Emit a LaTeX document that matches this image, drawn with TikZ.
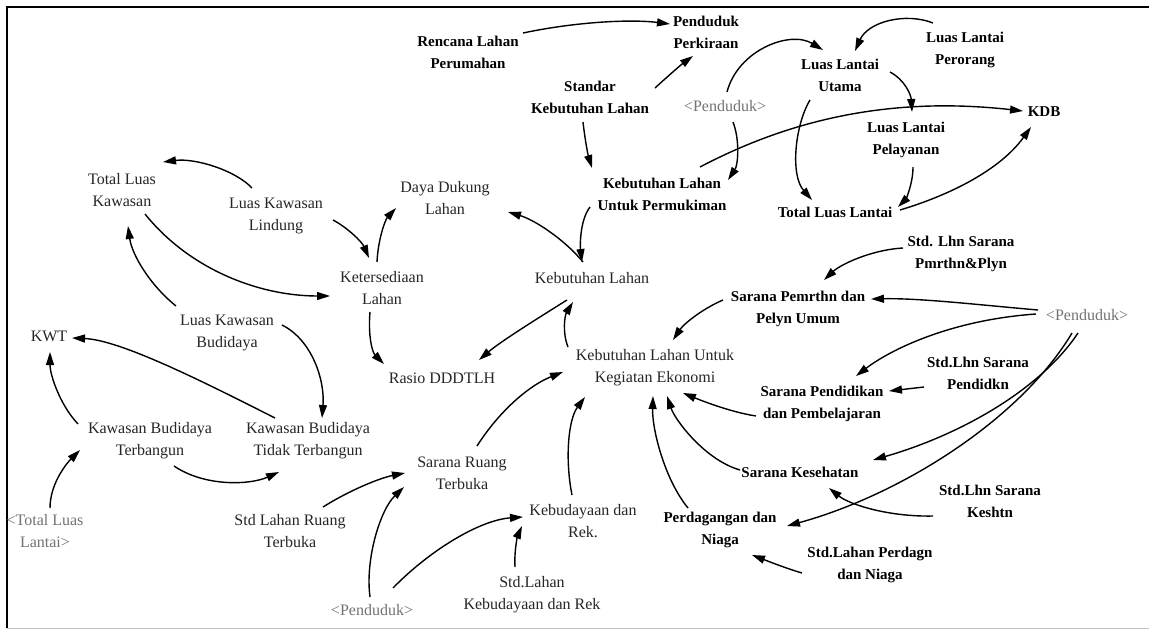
\documentclass[tikz,border=0pt]{standalone}
\usepackage{fontspec}
\setmainfont{Liberation Serif}
\usetikzlibrary{arrows.meta,calc}
\begin{document}
\begin{tikzpicture}[x=1pt,y=-1pt,
  lbl/.style={align=center,inner sep=1pt,text=black!85,font=\fontsize{16}{22}\selectfont},
  blbl/.style={align=center,inner sep=1pt,text=black,font=\fontsize{15}{22}\selectfont\bfseries},
  glbl/.style={align=center,inner sep=1pt,text=black!55,font=\fontsize{16}{22}\selectfont},
  arr/.style={line width=1.4pt,-{Triangle[length=13pt,width=8pt]}}]
\useasboundingbox (0,0) rectangle (1149,637);
\fill[white] (0,0) rectangle (1149,637);
% frame
\draw[line width=2.5pt] (7,628) -- (7,7) -- (1149,7);
\draw[black!25,line width=1pt] (7,628) -- (1149,628);
% nodes
\node[blbl] (ren) at (468,52) {Rencana Lahan\\Perumahan};
\node[blbl] (pen) at (706,32) {Penduduk\\Perkiraan};
\node[blbl] (std) at (590,97) {Standar\\Kebutuhan Lahan};
\node[glbl] (pdka) at (725,106) {<Penduduk>};
\node[blbl] (llu) at (840,75) {Luas Lantai\\Utama};
\node[blbl] (llp) at (965,50) {Luas Lantai\\Perorang};
\node[blbl] (kdb) at (1044,112) {KDB};
\node[blbl] (llpel) at (906,140) {Luas Lantai\\Pelayanan};
\node[blbl] (tll) at (835,212) {Total Luas Lantai};
\node[blbl] (klp) at (662,194) {Kebutuhan Lahan\\Untuk Permukiman};
\node[lbl] (ddl) at (445,198) {Daya Dukung\\Lahan};
\node[lbl] (tlk) at (122,190) {Total Luas\\Kawasan};
\node[lbl] (lkl) at (276,216) {Luas Kawasan\\Lindung};
\node[lbl] (ket) at (382,288) {Ketersediaan\\Lahan};
\node[lbl] (kl) at (592,278) {Kebutuhan Lahan};
\node[blbl] (stdp) at (961,254) {Std. Lhn Sarana\\Pmrthn\&Plyn};
\node[blbl] (spu) at (798,309) {Sarana Pemrthn dan\\Pelyn Umum};
\node[glbl] (pdkb) at (1087,315) {<Penduduk>};
\node[lbl] (lkb) at (227,333) {Luas Kawasan\\Budidaya};
\node[lbl] (kwt) at (49,336) {KWT};
\node[lbl] (ras) at (442,378) {Rasio DDDTLH};
\node[lbl] (klke) at (655,368) {Kebutuhan Lahan Untuk\\Kegiatan Ekonomi};
\node[blbl] (stdpd) at (978,373) {Std.Lhn Sarana\\Pendidkn};
\node[blbl] (spd) at (822,404) {Sarana Pendidikan\\dan Pembelajaran};
\node[lbl] (kbt) at (150,441) {Kawasan Budidaya\\Terbangun};
\node[lbl] (kbtt) at (308,441) {Kawasan Budidaya\\Tidak Terbangun};
\node[lbl] (srt) at (462,473) {Sarana Ruang\\Terbuka};
\node[blbl] (sk) at (800,472) {Sarana Kesehatan};
\node[blbl] (stdk) at (990,501) {Std.Lhn Sarana\\Keshtn};
\node[glbl] (tllb) at (45,531) {<Total Luas\\Lantai>};
\node[lbl] (stdrt) at (290,531) {Std Lahan Ruang\\Terbuka};
\node[lbl] (kdr) at (583,521) {Kebudayaan dan\\Rek.};
\node[blbl] (pn) at (720,530) {Perdagangan dan\\Niaga};
\node[blbl] (stdpn) at (870,565) {Std.Lahan Perdagn\\dan Niaga};
\node[glbl] (pdkc) at (372,610) {<Penduduk>};
\node[lbl] (stdkr) at (532,595) {Std.Lahan\\Kebudayaan dan Rek};
% connectors
\draw[arr] ($(ren)+(55,-19)$) .. controls (575,22) and (630,19) .. ($(pen)+(-36,-8)$);
\draw[arr] ($(std)+(65,-9)$) .. controls (668,76) and (682,64) .. ($(pen)+(-13,24)$);
\draw[arr] ($(std)+(-7,25)$) .. controls (585,140) and (588,155) .. ($(klp)+(-70,-26)$);
\draw[arr] ($(pdka)+(2,-14)$) .. controls (738,50) and (790,30) .. ($(llu)+(-17,-25)$);
\draw[arr] ($(pdka)+(8,16)$) .. controls (740,140) and (738,165) .. ($(klp)+(66,-14)$);
\draw[arr] ($(llp)+(-32,-27)$) .. controls (905,12) and (868,22) .. ($(llu)+(15,-24)$);
\draw[arr] ($(llu)+(50,-3)$) .. controls (905,80) and (911,95) .. ($(llpel)+(6,-28)$);
\draw[arr] ($(llu)+(-30,25)$) .. controls (795,125) and (790,175) .. ($(tll)+(-23,-12)$);
\draw[arr] ($(llpel)+(7,27)$) .. controls (913,185) and (905,200) .. ($(tll)+(63,-5)$);
\draw[arr] ($(tll)+(65,-2)$) .. controls (950,195) and (1000,170) .. ($(kdb)+(-13,15)$);
\draw[arr] ($(klp)+(38,-27)$) .. controls (780,125) and (880,95) .. ($(kdb)+(-21,-1)$);
\draw[arr] ($(klp)+(-72,13)$) .. controls (580,220) and (580,245) .. ($(kl)+(-10,-16)$);
\draw[arr] ($(kl)+(-9,-16)$) .. controls (565,240) and (535,220) .. ($(ddl)+(63,14)$);
\draw[arr] ($(ket)+(-5,-26)$) .. controls (378,240) and (385,220) .. ($(ddl)+(-49,10)$);
\draw[arr] ($(lkl)+(57,4)$) .. controls (348,228) and (362,242) .. ($(ket)+(-13,-30)$);
\draw[arr] ($(lkl)+(-24,-28)$) .. controls (235,170) and (195,158) .. ($(tlk)+(41,-28)$);
\draw[arr] ($(tlk)+(23,24)$) .. controls (190,270) and (260,296) .. ($(ket)+(-52,8)$);
\draw[arr] ($(lkb)+(-51,-27)$) .. controls (150,285) and (132,255) .. ($(tlk)+(6,36)$);
\draw[arr] ($(lkb)+(55,-8)$) .. controls (312,340) and (325,380) .. ($(kbtt)+(14,-23)$);
\draw[arr] ($(kbtt)+(-33,-23)$) .. controls (200,380) and (120,340) .. ($(kwt)+(23,2)$);
\draw[arr] ($(kbt)+(-72,-17)$) .. controls (60,405) and (50,375) .. ($(kwt)+(1,16)$);
\draw[arr] ($(tllb)+(5,-23)$) .. controls (50,485) and (65,465) .. ($(kbt)+(-70,9)$);
\draw[arr] ($(kbt)+(24,25)$) .. controls (205,487) and (250,485) .. ($(kbtt)+(-29,31)$);
\draw[arr] ($(ket)+(-12,24)$) .. controls (368,335) and (372,352) .. ($(ras)+(-58,-14)$);
\draw[arr] ($(klke)+(-87,-21)$) .. controls (562,332) and (565,315) .. ($(kl)+(-19,24)$);
\draw[arr] ($(kl)+(-25,22)$) .. controls (535,320) and (500,342) .. ($(ras)+(37,-18)$);
\draw[arr] ($(spu)+(-75,-9)$) .. controls (700,310) and (683,325) .. ($(klke)+(18,-28)$);
\draw[arr] ($(stdp)+(-58,-6)$) .. controls (870,250) and (840,265) .. ($(spu)+(26,-29)$);
\draw[arr] ($(pdkb)+(-49,-5)$) .. controls (980,305) and (920,298) .. ($(spu)+(73,-10)$);
\draw[arr] ($(pdkb)+(-51,-1)$) .. controls (950,320) and (890,350) .. ($(spd)+(34,-28)$);
\draw[arr] ($(stdpd)+(-54,14)$) -- ($(spd)+(67,-13)$);
\draw[arr] ($(spd)+(-66,12)$) .. controls (730,412) and (700,400) .. ($(klke)+(28,25)$);
\draw[arr] ($(pdkb)+(-9,18)$) .. controls (1040,390) and (960,435) .. ($(sk)+(73,-12)$);
\draw[arr] ($(pdkb)+(-15,18)$) .. controls (1020,420) and (900,495) .. ($(pn)+(67,-4)$);
\draw[arr] ($(sk)+(-60,-2)$) .. controls (705,460) and (675,420) .. ($(klke)+(12,28)$);
\draw[arr] ($(stdk)+(-57,15)$) .. controls (890,517) and (850,505) .. ($(sk)+(29,16)$);
\draw[arr] ($(pn)+(-32,-22)$) .. controls (665,480) and (652,430) .. ($(klke)+(-2,28)$);
\draw[arr] ($(stdpn)+(-68,8)$) .. controls (785,568) and (765,560) .. ($(pn)+(32,25)$);
\draw[arr] ($(kdr)+(-11,-26)$) .. controls (565,460) and (568,420) .. ($(klke)+(-70,29)$);
\draw[arr] ($(srt)+(15,-27)$) .. controls (500,410) and (530,385) .. ($(klke)+(-92,4)$);
\draw[arr] ($(stdrt)+(33,-24)$) .. controls (350,490) and (380,478) .. ($(srt)+(-57,0)$);
\draw[arr] ($(pdkc)+(-2,-13)$) .. controls (365,560) and (380,510) .. ($(srt)+(-58,14)$);
\draw[arr] ($(pdkc)+(21,-22)$) .. controls (430,550) and (480,520) .. ($(kdr)+(-60,-4)$);
\draw[arr] ($(stdkr)+(-17,-28)$) .. controls (514,550) and (518,535) .. ($(kdr)+(-61,5)$);
\end{tikzpicture}
\end{document}
